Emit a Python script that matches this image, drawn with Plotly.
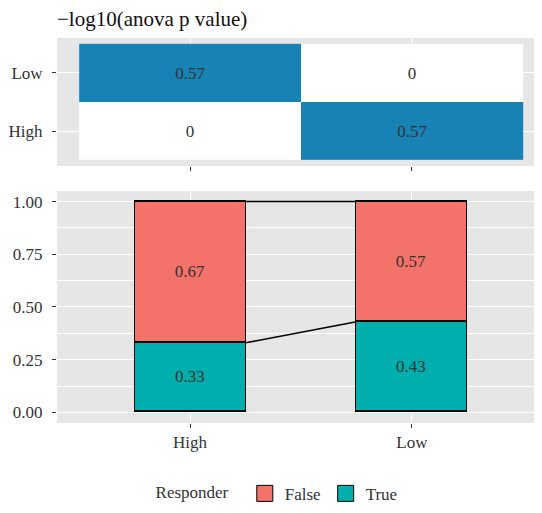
import plotly.graph_objects as go
from plotly.subplots import make_subplots

# ---- data ----
groups = ["High", "Low"]
false_frac = [0.67, 0.57]
true_frac = [0.33, 0.43]
heat_rows = ["High", "Low"]          # y categories (bottom to top)
heat_z = [[0, 0.57],                 # row High: col High, col Low
          [0.57, 0]]                 # row Low:  col High, col Low
yticks = [0, 0.25, 0.5, 0.75, 1.0]

FONT = "Liberation Serif, Times New Roman, DejaVu Serif, serif"
RED = "#F3736A"
TEAL = "#00AEAE"
BLUE = "#1882B5"
BG = "#E6E6E6"
TXT = "#333333"
FS = 17

fig = make_subplots(rows=2, cols=1)
xs = list(range(len(groups)))
ys = list(range(len(heat_rows)))

fig.add_trace(go.Heatmap(
    x=xs, y=ys, z=heat_z, zmin=0, zmax=max(max(r) for r in heat_z),
    colorscale=[[0, "#FFFFFF"], [1, BLUE]], showscale=False,
    texttemplate="%{z}", textfont=dict(family=FONT, size=FS, color=TXT),
    hoverinfo="skip"), row=1, col=1)

bar_w = 0.5
fig.add_trace(go.Bar(
    x=xs, y=true_frac, width=bar_w, name="True", marker=dict(color=TEAL, line=dict(color="black", width=1.5)),
    text=[f"{v:.2f}" for v in true_frac], textposition="inside", insidetextanchor="middle",
    textangle=0, textfont=dict(family=FONT, size=FS, color=TXT), showlegend=False), row=2, col=1)
fig.add_trace(go.Bar(
    x=xs, y=false_frac, width=bar_w, name="False", marker=dict(color=RED, line=dict(color="black", width=1.5)),
    text=[f"{v:.2f}" for v in false_frac], textposition="inside", insidetextanchor="middle",
    textangle=0, textfont=dict(family=FONT, size=FS, color=TXT), showlegend=False), row=2, col=1)

# connecting lines between bars
totals = [t + f for t, f in zip(true_frac, false_frac)]
for i in range(len(groups) - 1):
    for series in (true_frac, totals):
        fig.add_trace(go.Scatter(
            x=[xs[i] + bar_w / 2, xs[i + 1] - bar_w / 2], y=[series[i], series[i + 1]],
            mode="lines", line=dict(color="black", width=1.5), showlegend=False, hoverinfo="skip"),
            row=2, col=1)

# legend entries
for name, col in (("False", RED), ("True", TEAL)):
    fig.add_trace(go.Scatter(x=[None], y=[None], mode="markers", name=name,
                             marker=dict(symbol="square", size=16, color=col,
                                         line=dict(color="black", width=1))), row=2, col=1)

xr = [-0.6, 1.6]
common_axis = dict(showline=False, zeroline=False, ticks="outside", ticklen=4, tickcolor=TXT,
                   tickwidth=1, gridcolor="white", gridwidth=1.2, automargin=False,
                   tickfont=dict(family=FONT, size=FS, color=TXT))
fig.update_xaxes(**common_axis, range=xr, tickvals=xs, ticktext=groups)
fig.update_xaxes(showticklabels=False, row=1, col=1)
fig.update_yaxes(**common_axis, ticklabelstandoff=6)
fig.update_yaxes(range=[-0.6, 1.6], tickvals=ys, ticktext=heat_rows, row=1, col=1)
fig.update_yaxes(range=[-0.05, 1.05], tickvals=yticks, tickformat=".2f",
                 minor=dict(dtick=0.125, tick0=0.125, showgrid=True, gridcolor="white", gridwidth=0.6),
                 row=2, col=1)

# page body has an 8px margin, so the figure is laid out 8px up/left
fig.update_layout(
    width=542, height=513,
    margin=dict(l=49, r=5, t=30, b=98, autoexpand=False),
    plot_bgcolor=BG, paper_bgcolor="white",
    barmode="stack", bargap=0,
    font=dict(family=FONT, size=FS, color=TXT),
    xaxis=dict(domain=[0, 1]), xaxis2=dict(domain=[0, 1]),
    yaxis=dict(domain=[0.6675, 1]), yaxis2=dict(domain=[0, 0.6026]),
    title=dict(text="\u2212log10(anova p value)", x=0, xref="paper", xanchor="left",
               y=1 - 3 / 513, yanchor="top", pad=dict(t=0, b=0),
               font=dict(family=FONT, size=21, color="#111111")),
    legend=dict(orientation="h", x=0.453, xanchor="center", y=-0.184, yanchor="middle",
                traceorder="normal",
                title=dict(text="Responder  ", font=dict(family=FONT, size=FS, color=TXT), side="left"),
                font=dict(family=FONT, size=FS, color=TXT)),
    showlegend=True,
)

fig.write_html("out.html")
